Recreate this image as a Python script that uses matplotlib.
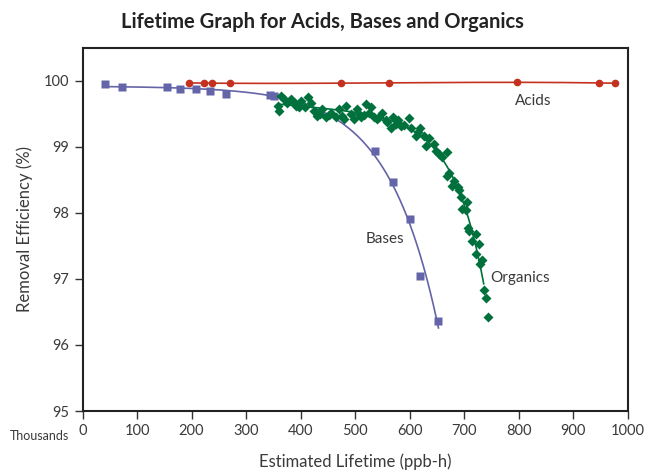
import numpy as np
import matplotlib
matplotlib.use('Agg')
import matplotlib.pyplot as plt

plt.rcParams['font.family'] = ['Lato', 'DejaVu Sans']

# data (thousands of ppb-h, removal efficiency %)
acids_x = [195, 222, 238, 270, 475, 562, 798, 947, 977]
acids_y = [99.965, 99.965, 99.965, 99.965, 99.965, 99.965, 99.98, 99.965, 99.965]

bases_x = [42, 72, 155, 179, 208, 234, 263, 344, 351, 536, 570, 601, 620, 653]
bases_y = [99.95, 99.91, 99.91, 99.87, 99.87, 99.85, 99.80, 99.79, 99.77,
           98.93, 98.47, 97.91, 97.05, 96.37]

organics_x = [364, 358, 361, 370, 383, 389, 401, 398, 413, 419, 425, 431, 440,
              447, 456, 465, 471, 480, 483, 492, 498, 504, 511, 520, 526, 535,
              529, 550, 544, 559, 569, 566, 578, 584, 599, 602, 611, 620, 627,
              636, 630, 645, 648, 654, 669, 660, 672, 669, 681, 678, 688, 691,
              694, 706, 697, 703, 708, 709, 721, 715, 727, 721, 733, 730, 736,
              741, 744, 376, 392, 408, 436, 452, 476, 508, 516, 540, 556, 575,
              590, 615]
organics_y = [99.77, 99.62, 99.55, 99.72, 99.72, 99.67, 99.70, 99.60, 99.75,
              99.67, 99.55, 99.47, 99.57, 99.45, 99.52, 99.45, 99.57, 99.42,
              99.62, 99.50, 99.42, 99.57, 99.45, 99.65, 99.52, 99.45, 99.60,
              99.52, 99.45, 99.37, 99.45, 99.29, 99.40, 99.32, 99.43, 99.29,
              99.17, 99.28, 99.17, 99.14, 99.02, 99.04, 98.94, 98.89, 98.92,
              98.84, 98.61, 98.56, 98.49, 98.41, 98.39, 98.34, 98.24, 98.16,
              98.06, 98.04, 97.77, 97.73, 97.68, 97.58, 97.53, 97.38, 97.28,
              97.23, 96.83, 96.71, 96.42, 99.66, 99.62, 99.60, 99.50, 99.48,
              99.47, 99.50, 99.48, 99.42, 99.40, 99.35, 99.33, 99.22]

xticks = list(range(0, 1001, 100))
yticks = [95, 96, 97, 98, 99, 100]


def exp_fit(x, y):
    # y = a + d*x - b*exp(x/c): scan c, linear least squares for a, d, b
    x = np.asarray(x, float)
    y = np.asarray(y, float)
    best = None
    for c in np.linspace(20, 400, 381):
        A = np.column_stack([np.ones_like(x), x, -np.exp(x / c)])
        coef, *_ = np.linalg.lstsq(A, y, rcond=None)
        err = np.sum((A @ coef - y) ** 2)
        if best is None or err < best[0]:
            best = (err, coef, c)
    _, (a, d, b), c = best
    return lambda t: a + d * t - b * np.exp(t / c)


red = '#C4321F'
blue = '#6464A8'
green = '#00703C'
txt = '#3a3a3a'

fig = plt.figure(figsize=(6.45, 4.73), dpi=100)
ax = fig.add_axes([0.128, 0.131, 0.845, 0.768])

# acids
fa = np.poly1d(np.polyfit(acids_x, acids_y, 3))
xa = np.linspace(min(acids_x), max(acids_x), 200)
ax.plot(xa, fa(xa), color=red, lw=1.2)
ax.plot(acids_x, acids_y, 'o', color=red, ms=5.5, mec='none')

# bases
fb = exp_fit(bases_x, bases_y)
xb = np.linspace(min(bases_x), max(bases_x), 200)
ax.plot(xb, fb(xb), color=blue, lw=1.2)
ax.plot(bases_x, bases_y, 's', color=blue, ms=6, mec='none')

# organics
fo = exp_fit(organics_x, organics_y)
xo = np.linspace(360, 736, 200)
ax.plot(organics_x, organics_y, 'D', color=green, ms=5, mec='none')
ax.plot(xo, fo(xo), color=green, lw=1.2)

ax.text(826, 99.70, 'Acids', color=txt, fontsize=11, ha='center', va='center')
ax.text(555, 97.60, 'Bases', color=txt, fontsize=11, ha='center', va='center')
ax.text(748, 97.02, 'Organics', color=txt, fontsize=11, ha='left', va='center')

ax.set_xlim(0, 1000)
ax.set_ylim(95, 100.5)
ax.set_xticks(xticks)
ax.set_yticks(yticks)
ax.tick_params(direction='out', length=6, width=1, colors='#333333',
               labelcolor=txt, labelsize=10.5)
for s in ax.spines.values():
    s.set_linewidth(1.5)
    s.set_color('#222222')

ax.set_xlabel('Estimated Lifetime (ppb-h)', fontsize=12, color=txt, labelpad=11)
ax.set_ylabel('Removal Efficiency (%)', fontsize=12, color=txt, labelpad=8)
fig.text(0.015, 0.078, 'Thousands', fontsize=9, color=txt, va='center')
fig.suptitle('Lifetime Graph for Acids, Bases and Organics', fontsize=14.5,
             fontweight='bold', color='#222222', y=0.975)

fig.savefig('out.png', dpi=100)
